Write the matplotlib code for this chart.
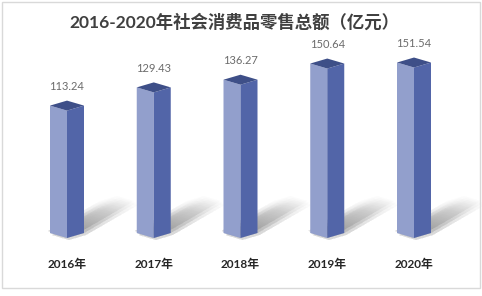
import numpy as np
import matplotlib.pyplot as plt
from matplotlib.patches import Polygon, Rectangle

# data
years = ['2016年', '2017年', '2018年', '2019年', '2020年']
values = [113.24, 129.43, 136.27, 150.64, 151.54]
title = '2016-2020年社会消费品零售总额（亿元）'

light = '#929fcc'
dark = '#5265a8'
topc = '#3e4f88'

W, H = 482, 296
fig = plt.figure(figsize=(W / 100, H / 100), dpi=100)
ax = fig.add_axes([0, 0, 1, 1])

# pixel layout of the category / value scale
x0_px, step_px = 67, 86.75
base_px, unit_px = 238, 1.125
ax.set_xlim(-x0_px / step_px, (W - x0_px) / step_px)
ax.set_ylim(-(H - base_px) / unit_px, base_px / unit_px)
ax.axis('off')

hw = 17 / step_px      # half width of the bar
dz = 5 / unit_px       # half height of the top diamond
sx, sy = 52 / step_px, 30 / unit_px   # shadow direction

fam = ['Lato', 'Noto Sans CJK SC']

for i, v in enumerate(values):
    xc = i
    # soft shadow on the floor
    foot = np.array([[xc - hw, dz], [xc, 0], [xc + hw, dz], [xc, 2 * dz]])
    for t in np.linspace(1.0, 0.15, 12):
        for off in (-2, 0, 2):
            o = np.array([off / step_px, -off / unit_px])
            f = foot + o
            pts = np.array([f[1], f[2], f[2] + [sx * t, sy * t],
                            f[3] + [sx * t, sy * t], f[0] + [sx * t, sy * t], f[0]])
            ax.add_patch(Polygon(pts, closed=True, fc='#7a7a7a', ec='none',
                                 alpha=0.022, zorder=1))

    ax.add_patch(Polygon([[xc - hw, dz], [xc, 0], [xc, v], [xc - hw, v + dz]],
                         closed=True, fc=light, ec='none', zorder=3))
    ax.add_patch(Polygon([[xc, 0], [xc + hw, dz], [xc + hw, v + dz], [xc, v]],
                         closed=True, fc=dark, ec='none', zorder=3))
    ax.add_patch(Polygon([[xc, v], [xc + hw, v + dz], [xc, v + 2 * dz], [xc - hw, v + dz]],
                         closed=True, fc=topc, ec='none', zorder=4))

    ax.text(xc, v + 2 * dz + 14 / unit_px, f'{v:.2f}', ha='center', va='center',
            fontsize=8, color='#6b6b6b', family=fam)
    ax.text(xc, -26 / unit_px, years[i], ha='center', va='center',
            fontsize=8.5, color='#262626', fontweight='bold', family=fam)

fig.text(234 / W, 1 - 22 / H, title, ha='center', va='center', fontsize=12.5,
         fontweight='bold', color='#404040', family=fam)

fig.patches.append(Rectangle((1.5 / W, 1 - 287.5 / H), 478 / W, 286 / H,
                             transform=fig.transFigure, fill=False,
                             ec='#d9d9d9', lw=1))

fig.savefig('out.png', dpi=100)
